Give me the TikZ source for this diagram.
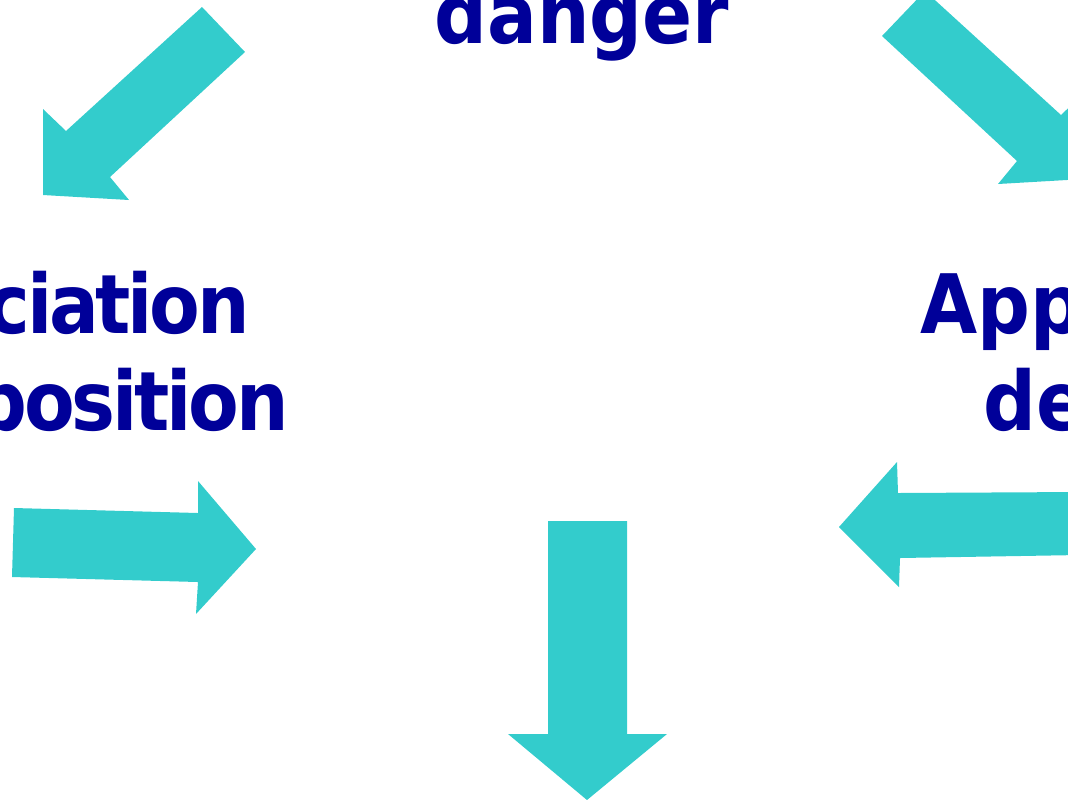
\documentclass[tikz,border=0pt]{standalone}
\usepackage{fontspec}
\usepackage{xcolor}
\usetikzlibrary{positioning}
\setmainfont{DejaVu Sans}
\newfontfamily\slidefont{DejaVu Sans}[FakeStretch=0.9]
\newfontfamily\slidefonttight{DejaVu Sans}[FakeStretch=0.9,LetterSpace=-4]
\definecolor{slideblue}{HTML}{000099}
\definecolor{slidecyan}{HTML}{33CCCC}
\tikzset{
  lbl/.style={font={\slidefont\bfseries\fontsize{46.7}{56}\selectfont},
              text=slideblue,inner sep=0pt},   % titres du cycle
  lblt/.style={lbl,font={\slidefonttight\bfseries\fontsize{46.7}{56}\selectfont}},
  blk/.style={fill=slidecyan,draw=none}        % grosses fleches
}

\begin{document}
\begin{tikzpicture}[x=0.02cm,y=-0.02cm]
  \useasboundingbox (0,0) rectangle (1068,799);
  \clip (0,0) rectangle (1068,799);
  % textes (coupes par le cadre)
  \node[lbl,anchor=base] (dgr) at (582,43) {danger};
  \node[lblt,anchor=base east] (assoc) at (250,333) {ciation};
  \node[lblt,anchor=base east] (oppo) at (289,430) {position};
  \node[lbl,anchor=base west] (appr) at (920,333) {App};
  \node[lbl,anchor=base west] (dfn) at (983,430) {de};
  % fleches
  \fill[blk] (202,7) -- (245,52) -- (110,177) -- (129,200) -- (43,195)
    -- (43,109) -- (66,131) -- cycle;
  \fill[blk] (925,-9) -- (882,36) -- (1017,161) -- (998,184) -- (1084,179)
    -- (1084,93) -- (1061,115) -- cycle;
  \fill[blk] (14,508) -- (198,513) -- (198,481) -- (256,549) -- (196,614)
    -- (198,582) -- (12,577) -- cycle;
  \fill[blk] (1080,492) -- (898,493) -- (897,462) -- (839,527) -- (899,587)
    -- (900,558) -- (1080,555) -- cycle;
  \fill[blk] (548,521) -- (627,521) -- (627,734) -- (667,734) -- (587,800)
    -- (508,734) -- (548,734) -- cycle;
\end{tikzpicture}
\end{document}
